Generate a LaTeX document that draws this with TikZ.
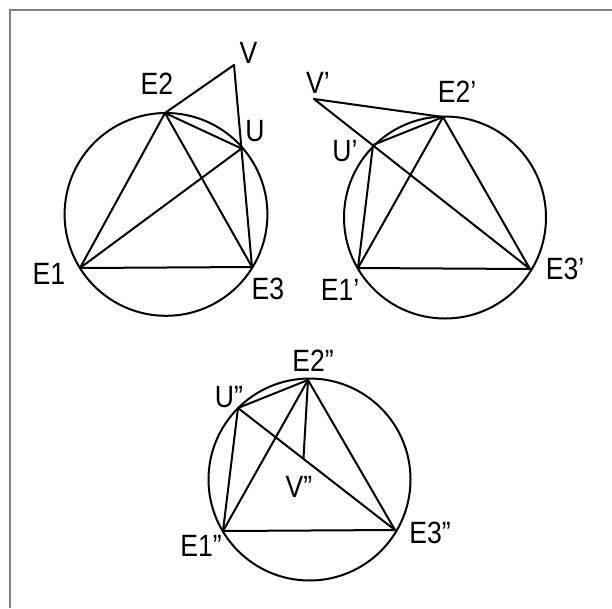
\documentclass[tikz,border=0pt]{standalone}
\usepackage{fontspec}
\setmainfont{Liberation Sans}
\newcommand\labtxt[1]{\scalebox{0.95}[1.1]{#1}}
\begin{document}
\begin{tikzpicture}[x=1pt,y=-1pt,
  edge/.style={line width=2pt, line cap=round, line join=round},
  ring/.style={line width=2pt},
  lbl/.style={font=\fontsize{28}{28}\selectfont, inner sep=0pt, text depth=0pt, anchor=center}]
\useasboundingbox (0,0) rectangle (612,608);
\draw[color={rgb,255:red,128;green,128;blue,128}, line width=2pt] (10,608) -- (10,10) -- (612,10);

% ---- first figure ----
\coordinate (E1) at (80,268);
\coordinate (E2) at (165,113);
\coordinate (E3) at (252,267);
\coordinate (U)  at (241.5,148.5);
\coordinate (V)  at (234,65);
\coordinate (C1) at (166,214.4);
\draw[ring] (C1) circle[radius=101.4];
\draw[edge] (E2) -- (V);
\draw[edge] (V) -- (E3);
\draw[edge] (E2) -- (U);
\draw[edge] (E2) -- (E1);
\draw[edge] (E2) -- (E3);
\draw[edge] (E1) -- (U);
\draw[edge] (E1) -- (E3);
\node[lbl] (lE1) at (49,274) {\labtxt{E1}};
\node[lbl] (lE2) at (157,84) {\labtxt{E2}};
\node[lbl] (lE3) at (268,289) {\labtxt{E3}};
\node[lbl] (lU)  at (255,131) {\labtxt{U}};
\node[lbl] (lV)  at (248.5,52.5) {\labtxt{V}};

% ---- second figure ----
\coordinate (F1) at (358,268);
\coordinate (F2) at (443,117);
\coordinate (F3) at (530,269);
\coordinate (Up) at (373,145);
\coordinate (Vp) at (314,99);
\coordinate (C2) at (445,217.5);
\draw[ring] (C2) circle[radius=101];
\draw[edge] (Vp) -- (F2);
\draw[edge] (Vp) -- (F3);
\draw[edge] (Up) -- (F2);
\draw[edge] (Up) -- (F1);
\draw[edge] (F1) -- (F2);
\draw[edge] (F2) -- (F3);
\draw[edge] (F1) -- (F3);
\node[lbl] (lF1) at (340,290) {\labtxt{E1’}};
\node[lbl] (lF2) at (457,92) {\labtxt{E2’}};
\node[lbl] (lF3) at (565,269) {\labtxt{E3’}};
\node[lbl] (lUp) at (345,151) {\labtxt{U’}};
\node[lbl] (lVp) at (318,83) {\labtxt{V’}};

% ---- third figure ----
\coordinate (G1) at (223,531);
\coordinate (G2) at (308,380);
\coordinate (G3) at (395,530);
\coordinate (Upp) at (238,408);
\coordinate (Vpp) at (303.5,458);
\coordinate (C3) at (309.5,479.5);
\draw[ring] (C3) circle[radius=101];
\draw[edge] (Upp) -- (G2);
\draw[edge] (Upp) -- (G1);
\draw[edge] (Upp) -- (G3);
\draw[edge] (G1) -- (G2);
\draw[edge] (G2) -- (G3);
\draw[edge] (G1) -- (G3);
\draw[edge] (G2) -- (Vpp);
\node[lbl] (lG1) at (201,546) {\labtxt{E1”}};
\node[lbl] (lG2) at (313,361) {\labtxt{E2”}};
\node[lbl] (lG3) at (430,533) {\labtxt{E3”}};
\node[lbl] (lUpp) at (229,397) {\labtxt{U”}};
\node[lbl] (lVpp) at (299,487) {\labtxt{V”}};
\end{tikzpicture}
\end{document}
